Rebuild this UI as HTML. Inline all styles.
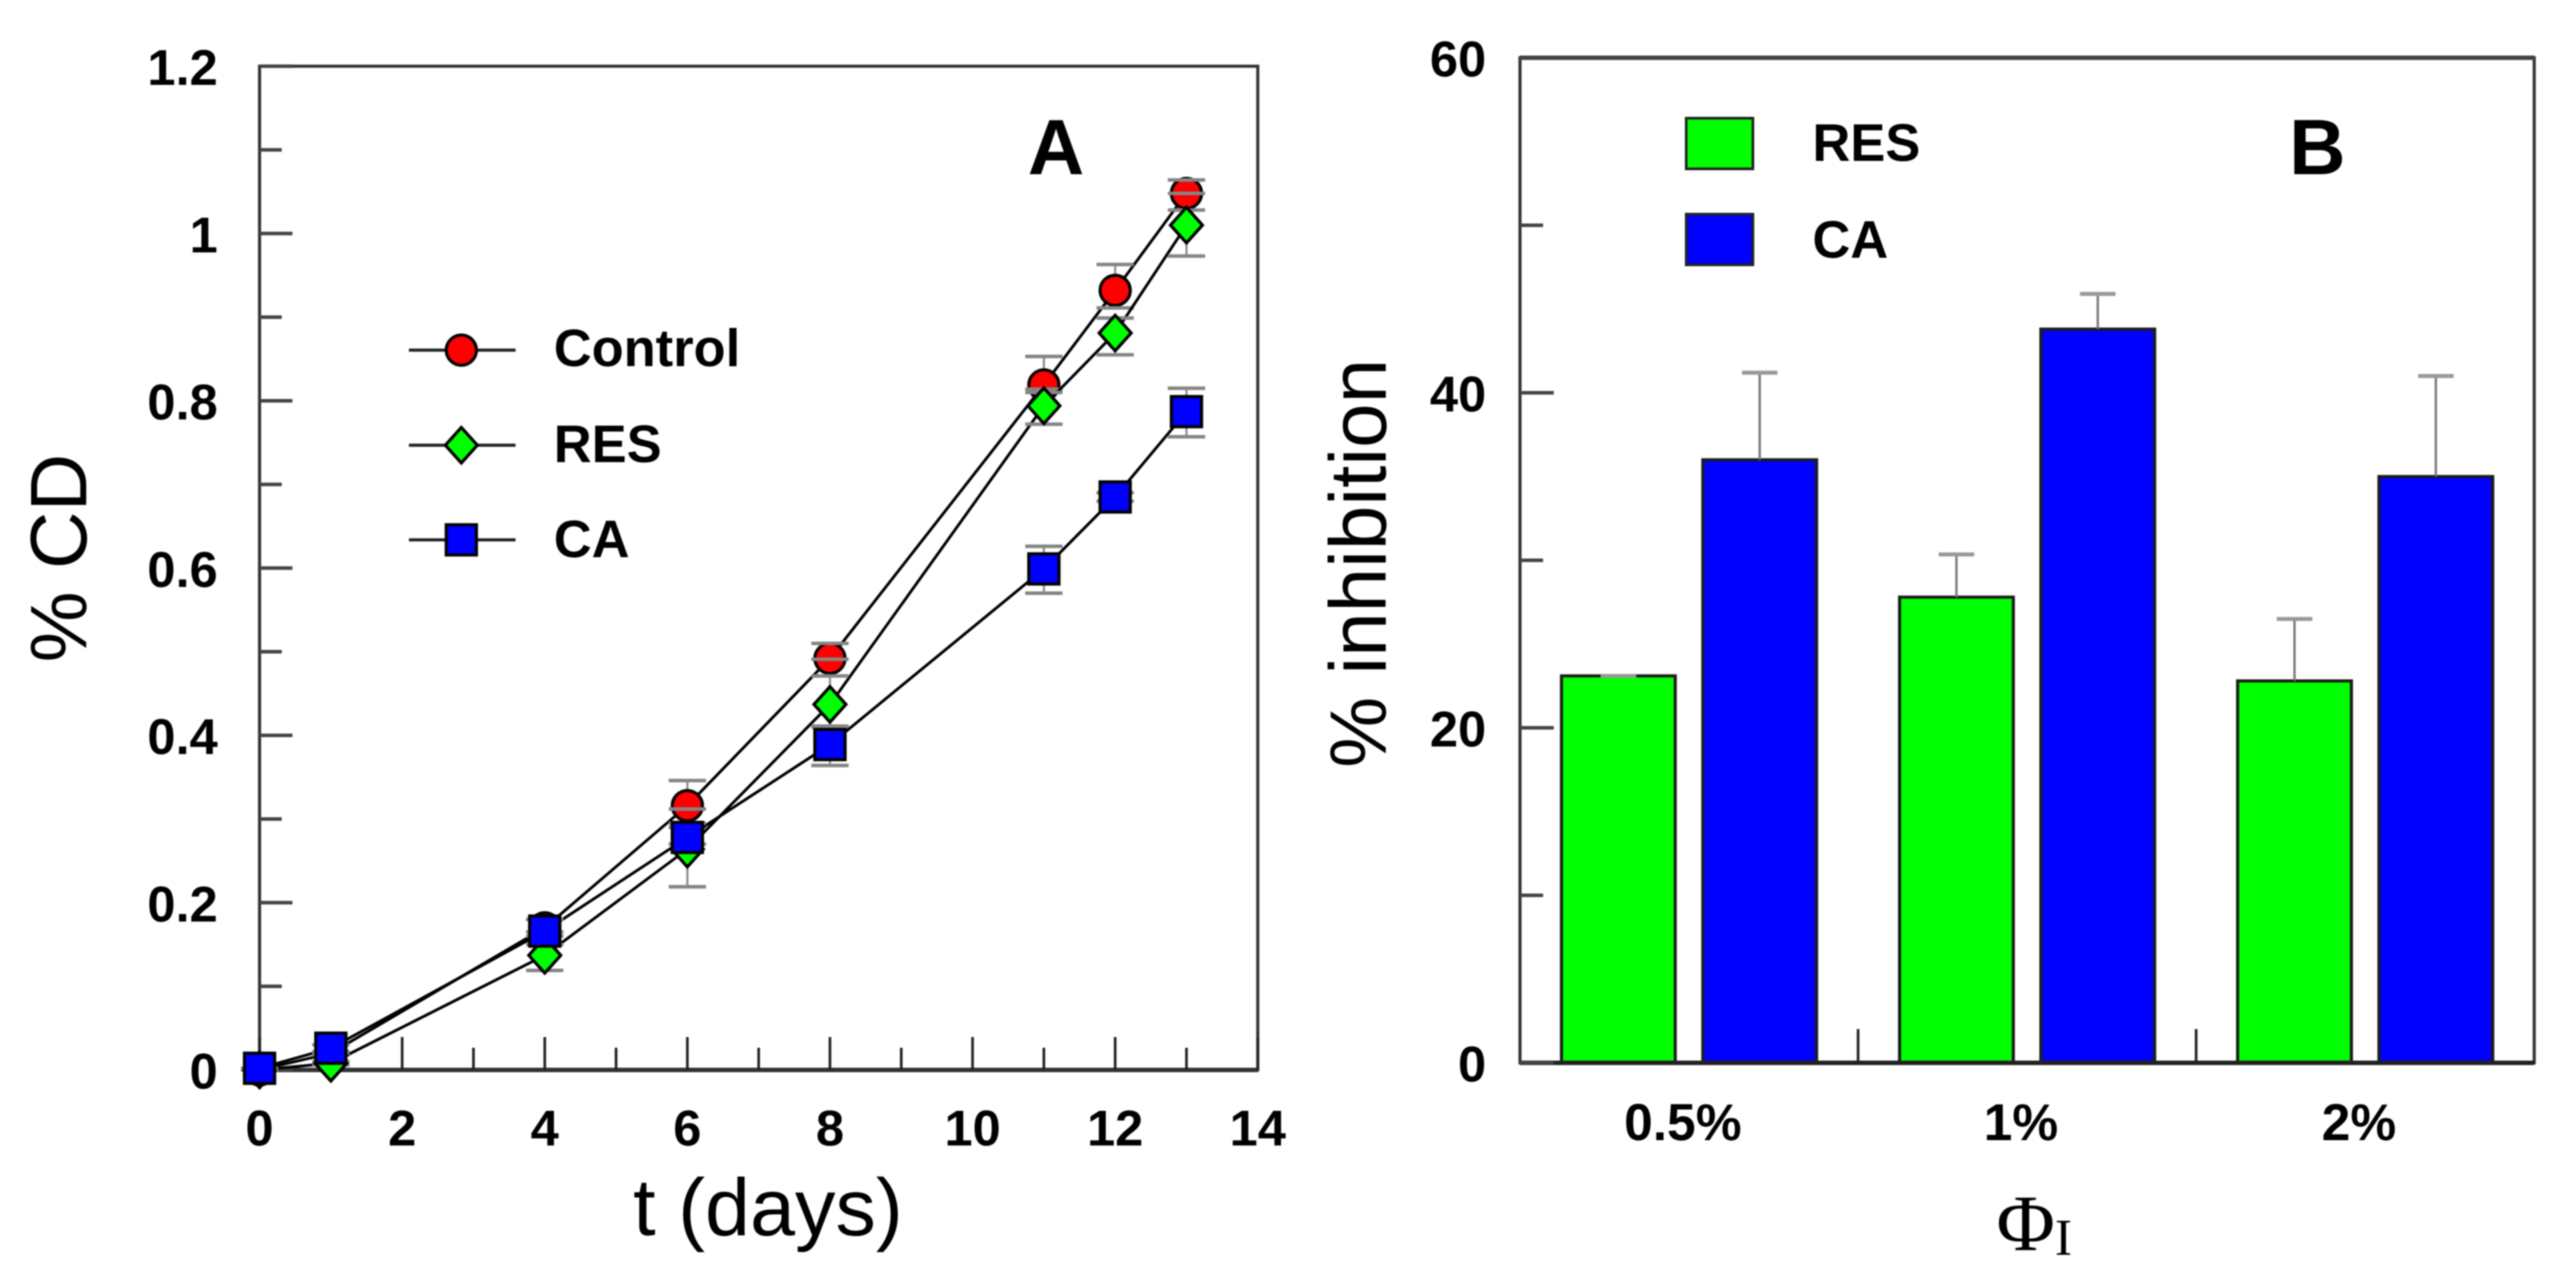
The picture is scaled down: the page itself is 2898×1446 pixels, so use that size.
<!DOCTYPE html>
<html lang="en">
<head>
<meta charset="utf-8">
<title>Cell density and inhibition charts</title>
<style>
html,body{margin:0;padding:0;background:#fff;width:2898px;height:1446px;overflow:hidden}
svg{display:block;filter:blur(0.9px)}
text{font-family:"Liberation Sans",Arial,sans-serif;fill:#000}
.tick{font-size:57px;font-weight:bold}
.cat{font-size:58px;font-weight:bold}
.leg{font-size:59px;font-weight:bold}
.big{font-weight:normal}
.panel{font-size:88px;font-weight:bold}
.serif{font-family:"Liberation Serif","Times New Roman",serif}
</style>
</head>
<body>
<svg id="figure" xmlns="http://www.w3.org/2000/svg" width="2898" height="1446" viewBox="0 0 2898 1446">
  <rect width="2898" height="1446" fill="#fff"/>

  <g id="panel-a">
    <g id="a-axes"></g>
    <g id="a-series"></g>
    <text class="panel" x="1188" y="196" text-anchor="middle">A</text>
    <text class="big" font-size="90" transform="translate(97,628) rotate(-90)" text-anchor="middle">% CD</text>
    <text class="big" font-size="91" x="864" y="1390" text-anchor="middle">t (days)</text>
    <g id="a-legend">
      <text class="leg" x="623" y="412">Control</text>
      <text class="leg" x="623" y="520">RES</text>
      <text class="leg" x="623" y="627">CA</text>
    </g>
  </g>

  <g id="panel-b">
    <g id="b-bars"></g>
    <g id="b-axes"></g>
    <text class="panel" x="2607" y="196" text-anchor="middle">B</text>
    <text class="big" font-size="90" transform="translate(1559,634) rotate(-90)" text-anchor="middle">% inhibition</text>
    <text class="serif" x="2246" y="1407" font-size="90">Φ<tspan font-size="58" y="1412">I</tspan></text>
    <g>
      <rect x="1897" y="133" width="75" height="57" fill="#00ff00" stroke="#222" stroke-width="3"/>
      <rect x="1897" y="241" width="75" height="57" fill="#0000ff" stroke="#222" stroke-width="3"/>
      <text class="leg" x="2039" y="181">RES</text>
      <text class="leg" x="2039" y="290">CA</text>
    </g>
  </g>
</svg>

<script>
// Panel A data
const days = [0, 1, 4, 6, 8, 11, 12, 13];
const controlValues = [0, 0.02, 0.17, 0.316, 0.492, 0.819, 0.932, 1.048];
const controlHigh = [0, 0.022, 0.18, 0.346, 0.51, 0.853, 0.963, 1.064];
const controlLow = [0, 0.018, 0.165, 0.312, 0.491, 0.814, 0.911, 1.048];
const resValues = [0, 0.008, 0.137, 0.264, 0.437, 0.794, 0.881, 1.01];
const resHigh = [0, 0.01, 0.15, 0.29, 0.471, 0.81, 0.899, 1.028];
const resLow = [0, 0.006, 0.119, 0.219, 0.41, 0.772, 0.855, 0.973];
const caValues = [0.002, 0.026, 0.166, 0.278, 0.389, 0.599, 0.685, 0.787];
const caHigh = [0.002, 0.03, 0.18, 0.295, 0.411, 0.626, 0.69, 0.815];
const caLow = [0.002, 0.02, 0.16, 0.27, 0.364, 0.57, 0.68, 0.757];
const aXTicks = [0, 2, 4, 6, 8, 10, 12, 14];
const aXMinorTicks = [1, 3, 5, 7, 9, 11, 13];
const aYTicks = [0, 0.2, 0.4, 0.6, 0.8, 1, 1.2];
const aYMinorTicks = [0.1, 0.3, 0.5, 0.7, 0.9, 1.1];

// Panel B data
const concentrations = ["0.5%", "1%", "2%"];
const resInhibition = [23.1, 27.8, 22.8];
const resInhibitionHigh = [23.1, 30.35, 26.5];
const caInhibition = [36, 43.8, 35];
const caInhibitionHigh = [41.2, 45.9, 41];
const bYTicks = [0, 20, 40, 60];
const bYMinorTicks = [10, 30, 50];

const NS = "http://www.w3.org/2000/svg";
function make(tag, attrs, parent) {
  const el = document.createElementNS(NS, tag);
  for (const k in attrs) el.setAttribute(k, attrs[k]);
  parent.appendChild(el);
  return el;
}

// Axis functions
const xA = t => 292 + t * (1415 - 292) / 14;
const yA = v => 1204 - v * (1204 - 74.5) / 1.2;
const yB = v => 1196 - v * (1196 - 65) / 60;
const bandLeft = 1710, bandWidth = (2851 - 1710) / 3, barWidth = 128, barGap = 31;
const groupCenter = i => bandLeft + bandWidth * (i + 0.5);

const aAxes = document.getElementById("a-axes");
const aSeries = document.getElementById("a-series");
const aLegend = document.getElementById("a-legend");
const bAxes = document.getElementById("b-axes");
const bBars = document.getElementById("b-bars");

// ---- Panel A axes
let frameA = make("path", {d: `M${xA(0)} ${yA(1.2)}H${xA(14)}V${yA(0)}H${xA(0)}Z`, fill: "none", stroke: "#333", "stroke-width": 3.5}, aAxes);


let baseA = make("line", {x1: xA(0), x2: xA(14), y1: yA(0), y2: yA(0), stroke: "#333", "stroke-width": 5}, aAxes);



aXTicks.forEach(t => {
  const m = make("line", {x1: xA(t), x2: xA(t), y1: yA(0), y2: yA(0) - 37, stroke: "#222", "stroke-width": 3}, aAxes);
  
  
  const l = make("text", {x: xA(t), y: 1289, "text-anchor": "middle", class: "tick"}, aAxes);
  l.textContent = String(t);
  
  
});
aXMinorTicks.forEach(t => {
  const m = make("line", {x1: xA(t), x2: xA(t), y1: yA(0), y2: yA(0) - 25, stroke: "#222", "stroke-width": 3}, aAxes);
  
  
});
aYTicks.forEach(v => {
  const m = make("line", {x1: xA(0), x2: xA(0) + 37, y1: yA(v), y2: yA(v), stroke: "#444", "stroke-width": 4}, aAxes);
  
  
  const l = make("text", {x: 245, y: yA(v) + 21, "text-anchor": "end", class: "tick"}, aAxes);
  l.textContent = String(v);
  
  
});
aYMinorTicks.forEach(v => {
  const m = make("line", {x1: xA(0), x2: xA(0) + 25, y1: yA(v), y2: yA(v), stroke: "#444", "stroke-width": 4}, aAxes);
  
  
});

// ---- Panel A markers
function marker(kind, fill, cx, cy, parent) {
  const s = {fill: fill, stroke: "#000", "stroke-width": 3.5};
  if (kind === "circle") return make("circle", Object.assign({cx: cx, cy: cy, r: 17}, s), parent);
  if (kind === "diamond") return make("polygon", Object.assign({points: `${cx},${cy - 20} ${cx + 18},${cy} ${cx},${cy + 20} ${cx - 18},${cy}`}, s), parent);
  return make("rect", Object.assign({x: cx - 17, y: cy - 17, width: 34, height: 34}, s), parent);
}

function drawSeries(name, kind, fill, values, high, low, capsBehind) {
  const g = make("g", {}, aSeries);
  
  
  const line = make("polyline", {
    points: days.map((d, i) => `${xA(d)},${yA(values[i])}`).join(" "),
    fill: "none", stroke: "#000", "stroke-width": 3.2
  }, g);
  
  
  days.forEach((d, i) => {
    const px = xA(d);
    const mk = marker(kind, fill, px, yA(values[i]), g);
    
    
    const bar = make("path", {
      d: `M${px - 21} ${yA(high[i])}H${px + 21}M${px - 21} ${yA(low[i])}H${px + 21}`,
      fill: "none", stroke: "#858585", "stroke-width": 4
    }, g);
    
    
    const stem = make("line", {x1: px, x2: px, y1: yA(high[i]), y2: yA(low[i]), stroke: "#777", "stroke-width": 2.4, opacity: 0.85}, g);
    
    
    mk.parentNode.insertBefore(stem, mk);
    if (capsBehind) mk.parentNode.insertBefore(bar, mk);
  });
}
drawSeries("control", "circle", "#ff0000", controlValues, controlHigh, controlLow, false);
drawSeries("res", "diamond", "#00ff00", resValues, resHigh, resLow, true);
drawSeries("ca", "square", "#0000ff", caValues, caHigh, caLow, true);

// ---- Panel A legend samples
[["control", "circle", "#ff0000", 394], ["res", "diamond", "#00ff00", 501], ["ca", "square", "#0000ff", 607.5]].forEach(e => {
  const l = make("line", {x1: 460, x2: 580, y1: e[3], y2: e[3], stroke: "#222", "stroke-width": 3.5}, aLegend);
  
  
  const m = marker(e[1], e[2], 519, e[3], aLegend);
  
  
});

// ---- Panel B bars
function drawBar(name, fill, value, high, left) {
  const top = yB(value);
  const r = make("rect", {x: left, y: top, width: barWidth, height: yB(0) - top, fill: fill, stroke: "#1c1c1c", "stroke-width": 3.5}, bBars);
  
  
  const cx = left + barWidth / 2;
  const stem = make("line", {x1: cx, x2: cx, y1: yB(high), y2: top, stroke: "#777", "stroke-width": 2.6}, bBars);
  
  
  const cap = make("line", {x1: cx - 20, x2: cx + 20, y1: yB(high), y2: yB(high), stroke: "#999", "stroke-width": 4.5}, bBars);
  
  
}
concentrations.forEach((c, i) => {
  const center = groupCenter(i);
  drawBar("res-" + c, "#00ff00", resInhibition[i], resInhibitionHigh[i], center - barGap / 2 - barWidth);
  drawBar("ca-" + c, "#0000ff", caInhibition[i], caInhibitionHigh[i], center + barGap / 2);
  const lab = make("text", {x: center - 7, y: 1283, "text-anchor": "middle", class: "cat"}, bAxes);
  lab.textContent = c;
  
  
  if (i > 0) {
    const t = make("line", {x1: bandLeft + bandWidth * i, x2: bandLeft + bandWidth * i, y1: yB(0), y2: yB(0) - 38, stroke: "#222", "stroke-width": 3}, bAxes);
    
    
  }
});

// ---- Panel B axes
let frameB = make("path", {d: `M${bandLeft} ${yB(60)}H2851V${yB(0)}H${bandLeft}Z`, fill: "none", stroke: "#333", "stroke-width": 3.5}, bAxes);


let topB = make("line", {x1: bandLeft, x2: 2851, y1: yB(60), y2: yB(60), stroke: "#444", "stroke-width": 5}, bAxes);


let baseB = make("line", {x1: bandLeft, x2: 2851, y1: yB(0), y2: yB(0), stroke: "#222", "stroke-width": 5}, bAxes);


bYTicks.forEach(v => {
  const m = make("line", {x1: bandLeft, x2: bandLeft + 38, y1: yB(v), y2: yB(v), stroke: "#444", "stroke-width": 4}, bAxes);
  
  
  const l = make("text", {x: 1672, y: yB(v) + 21, "text-anchor": "end", class: "tick"}, bAxes);
  l.textContent = String(v);
  
  
});
bYMinorTicks.forEach(v => {
  const m = make("line", {x1: bandLeft, x2: bandLeft + 26, y1: yB(v), y2: yB(v), stroke: "#444", "stroke-width": 4}, bAxes);
  
  
});
</script>
</body>
</html>
